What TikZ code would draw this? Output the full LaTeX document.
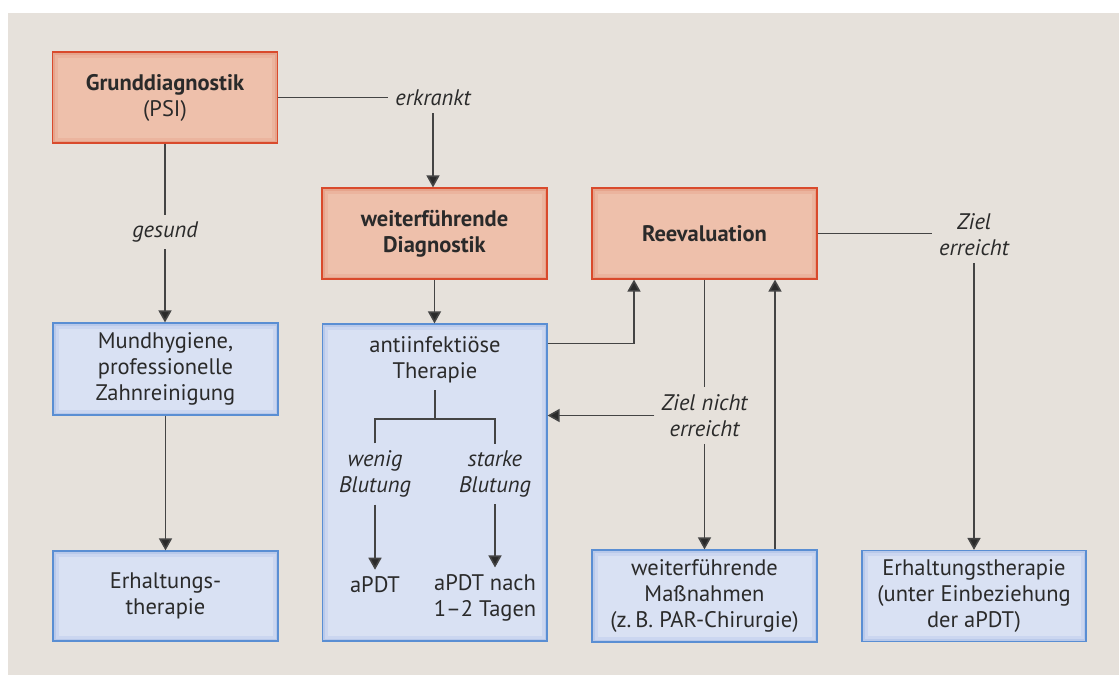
\documentclass[tikz,border=0pt]{standalone}
\usepackage{fontspec}
\setmainfont{PT Sans}
\usetikzlibrary{calc,arrows.meta}
\definecolor{bgc}{HTML}{E6E1DB}
\definecolor{redB}{HTML}{D94A2C}
\definecolor{pinkD}{HTML}{E6A48C}
\definecolor{pinkM}{HTML}{EBB49E}
\definecolor{pinkF}{HTML}{EEC0AB}
\definecolor{blueB}{HTML}{5A8ED3}
\definecolor{blueD}{HTML}{B9C9EA}
\definecolor{blueM}{HTML}{CBD6F0}
\definecolor{blueF}{HTML}{D9E1F3}
\definecolor{txt}{HTML}{2A2A2A}
\definecolor{lnc}{HTML}{444444}
\tikzset{
  basebox/.style={minimum width=225pt, minimum height=91pt, line width=1.2pt, align=center, inner sep=0pt,
     font=\fontsize{22.5}{26}\selectfont, text=txt},
  pinkbox/.style={basebox, draw=redB, fill=pinkD,
    path picture={
      \fill[pinkM] ($(path picture bounding box.south west)+(2.5pt,2.5pt)$) rectangle ($(path picture bounding box.north east)-(2.5pt,2.5pt)$);
      \fill[pinkF] ($(path picture bounding box.south west)+(5.5pt,5.5pt)$) rectangle ($(path picture bounding box.north east)-(5.5pt,5.5pt)$);}},
  bluebox/.style={basebox, draw=blueB, fill=blueD,
    path picture={
      \fill[blueM] ($(path picture bounding box.south west)+(2.5pt,2.5pt)$) rectangle ($(path picture bounding box.north east)-(2.5pt,2.5pt)$);
      \fill[blueF] ($(path picture bounding box.south west)+(5.5pt,5.5pt)$) rectangle ($(path picture bounding box.north east)-(5.5pt,5.5pt)$);}},
  lbl/.style={align=center, font=\fontsize{22.5}{26}\selectfont\itshape, text=txt, inner sep=7pt},
  intxt/.style={align=center, font=\fontsize{22.5}{26}\selectfont, text=txt, inner sep=7pt},
  conn/.style={draw=lnc, line width=1.6pt},
  arr/.style={conn, -{Triangle[length=12pt,width=13pt,fill=txt]}},
}
\begin{document}
\begin{tikzpicture}[x=1pt,y=-1pt]
\useasboundingbox (0,0) rectangle (1119,675);
\fill[bgc] (8,13) rectangle (1119,675);

\node[pinkbox] (grund) at (165,97.5) {\textbf{Grunddiagnostik}\\(PSI)};
\node[pinkbox] (weiter) at (434.5,233.5) {\textbf{weiterführende}\\\textbf{Diagnostik}};
\node[pinkbox] (reeval) at (704.5,233.5) {\textbf{Reevaluation}};
\node[bluebox, minimum height=92pt] (mund) at (165.5,369) {Mundhygiene,\\professionelle\\Zahnreinigung};
\node[bluebox, minimum height=90pt] (erh1) at (165.5,596) {Erhaltungs-\\therapie};
\node[bluebox, minimum width=224.5pt, minimum height=317pt] (anti) at (434.75,482.5) {};
\node[bluebox, minimum height=92pt] (mass) at (704.5,596) {weiterführende\\Maßnahmen\\(z.\,B. PAR-Chirurgie)};
\node[bluebox, minimum width=224pt, minimum height=91pt] (erh2) at (974,596) {Erhaltungstherapie\\(unter Einbeziehung\\der aPDT)};

% inner texts of anti
\node[intxt] (antit) at (435,360) {antiinfektiöse\\Therapie};
\node[lbl] (wenig) at (375,474) {wenig\\Blutung};
\node[lbl] (starke) at (495,474) {starke\\Blutung};
\node[intxt] (apdt) at (375,585) {aPDT};
\node[intxt] (apdtn) at (485,598) {aPDT nach\\1–2 Tagen};

% labels
\node[lbl] (erkrankt) at (433,98) {erkrankt};
\node[lbl] (gesund) at (165,232) {gesund};
\node[lbl] (zielerr) at (974,234.5) {Ziel\\erreicht};
\node[lbl] (zielnicht) at (704.5,415.5) {Ziel nicht\\erreicht};

% connectors
\draw[conn] (grund.east) -- (erkrankt.west |- grund.east);
\draw[arr] (erkrankt.south) -- (erkrankt.south |- weiter.north);
\draw[conn] (grund.south) -- (gesund.north);
\draw[arr] (gesund.south) -- (gesund.south |- mund.north);
\draw[arr] (mund.south) -- (mund.south |- erh1.north);
\draw[arr] (weiter.south) -- (weiter.south |- anti.north);
\draw[arr] ([yshift=-20pt]anti.north east) -| ([xshift=-70.5pt]reeval.south);
\draw[conn] (reeval.south) -- (zielnicht.north);
\draw[arr] (zielnicht.west) -- (zielnicht.west -| anti.east);
\draw[arr] (zielnicht.south) -- (zielnicht.south |- mass.north);
\draw[arr] ([xshift=70.5pt]mass.north) -- ([xshift=70.5pt]reeval.south);
\draw[conn] (reeval.east) -- (zielerr.west |- reeval.east);
\draw[arr] (zielerr.south) -- (zielerr.south |- erh2.north);

\coordinate (j) at (435,419);
\draw[conn] (antit.south) -- (j);
\draw[conn] (wenig.north) |- (j) -| (starke.north);
\draw[arr] (wenig.south) -- (apdt.north);
\draw[arr] (starke.south) -- (starke.south |- apdtn.north);
\end{tikzpicture}
\end{document}
